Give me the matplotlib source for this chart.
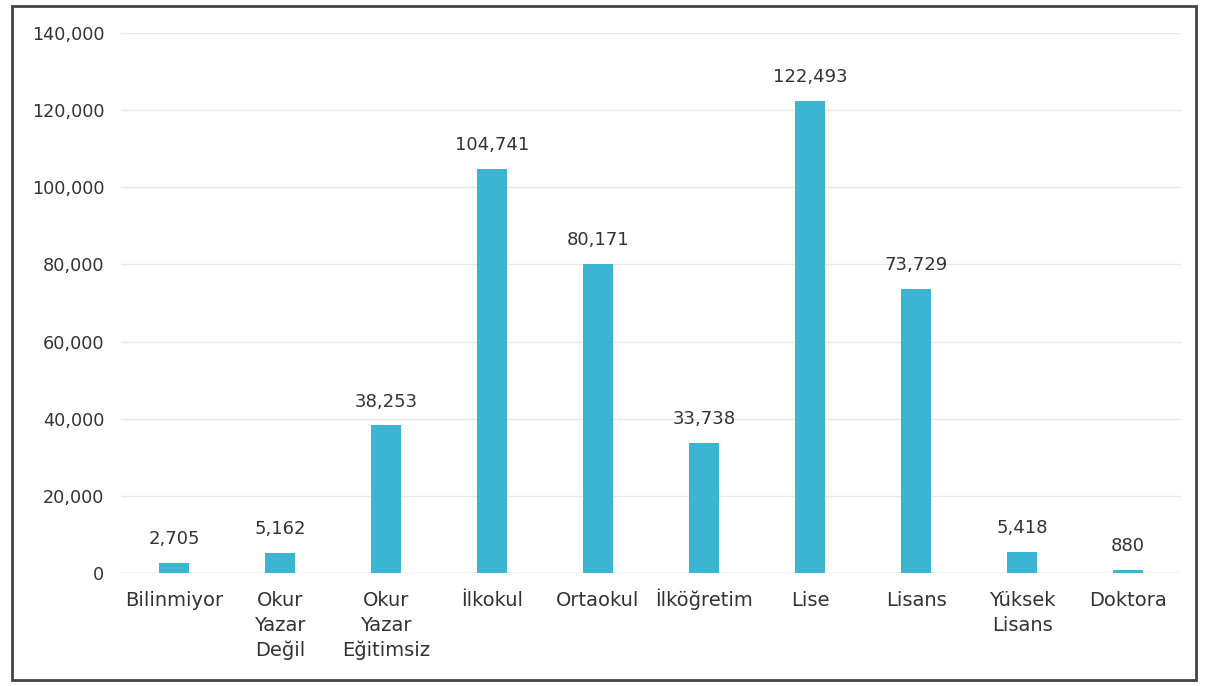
import matplotlib
matplotlib.use("Agg")
import matplotlib.pyplot as plt
import matplotlib.transforms as mtransforms
from matplotlib.patches import Rectangle
from matplotlib.ticker import FuncFormatter

categories = ["Bilinmiyor", "Okur\nYazar\nDeğil", "Okur\nYazar\nEğitimsiz", "İlkokul", "Ortaokul",
              "İlköğretim", "Lise", "Lisans", "Yüksek\nLisans", "Doktora"]
values = [2705, 5162, 38253, 104741, 80171, 33738, 122493, 73729, 5418, 880]
yticks = [0, 20000, 40000, 60000, 80000, 100000, 120000, 140000]

plt.rcParams['font.family'] = ['DejaVu Sans']

fig = plt.figure(figsize=(12.08, 6.86), dpi=100)
ax = fig.add_axes([0.1002, 0.1647, 0.8775, 0.7872])

x = list(range(len(categories)))
ax.bar(x, values, width=0.29, color="#3bb5d2", zorder=3)
for xi, v in zip(x, values):
    ax.text(xi, v + 3800, f"{v:,}", ha="center", va="bottom", fontsize=13, color="#333333")

ax.set_xlim(-0.5, len(categories) - 0.5)
ax.set_ylim(0, 140000)
ax.set_yticks(yticks)
ax.yaxis.set_major_formatter(FuncFormatter(lambda v, p: f"{int(v):,}"))
ax.set_xticks(x)
labels = ax.set_xticklabels(categories, fontsize=14, color="#333333", linespacing=1.38, va="top")
ax.tick_params(axis="y", labelsize=12.7, labelcolor="#333333", length=0, pad=12)
ax.tick_params(axis="x", length=0, pad=13)
ax.grid(axis="y", color="#e8e8e8", linewidth=1, zorder=0)
for s in ax.spines.values():
    s.set_visible(False)
ax.axhline(0, color="#dddddd", linewidth=1, zorder=1)

# align the label with the descender/accents to the others
fig.canvas.draw()
ref_lbl = ax.get_xticklabels()[3]
lbl = ax.get_xticklabels()[5]
lbl.set_transform(lbl.get_transform() + mtransforms.ScaledTranslation(0, 3 / 100, fig.dpi_scale_trans))

fig.patches.append(Rectangle((12 / 1208, 6 / 686), (1196 - 12) / 1208, (680 - 6) / 686,
                             transform=fig.transFigure, fill=False, edgecolor="#444444",
                             linewidth=2))

fig.savefig("out.png", dpi=100)
